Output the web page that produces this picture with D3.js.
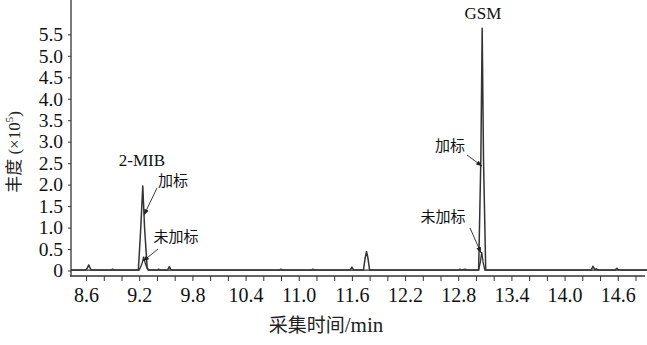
<!DOCTYPE html>
<html><head><meta charset="utf-8">
<script src="https://cdn.jsdelivr.net/npm/d3@7"></script>
<style>body{margin:0;background:#fff}svg{display:block}</style>
</head><body>
<svg id="c" width="647" height="345"></svg>
<script>
// ---- data ----
const yTicks = [0,0.5,1.0,1.5,2.0,2.5,3.0,3.5,4.0,4.5,5.0,5.5];
const xTickLabels = [8.6,9.2,9.8,10.4,11.0,11.6,12.2,12.8,13.4,14.0,14.6];
const xMinorTicks = [8.6,8.8,9.0,9.2,9.4,9.6,9.8,10.0,10.2,10.4,10.6,10.8,11.0,11.2,11.4,11.6,11.8,12.0,12.2,12.4,12.6,12.8,13.0,13.2,13.4,13.6,13.8,14.0,14.2,14.4,14.6,14.8];
// spiked sample (加标) chromatogram: [time(min), abundance ×10^5]
const spiked = [
 [8.43,0.01],[8.60,0.01],[8.615,0.06],[8.63,0.13],[8.645,0.06],[8.66,0.01],
 [8.88,0.01],[8.90,0.03],[8.92,0.01],
 [9.19,0.01],[9.215,0.9],[9.24,1.97],[9.26,1.0],[9.29,0.05],[9.31,0.01],
 [9.40,0.01],[9.42,0.03],[9.44,0.01],
 [9.52,0.01],[9.54,0.09],[9.56,0.01],
 [10.78,0.01],[10.80,0.03],[10.82,0.01],
 [11.14,0.01],[11.16,0.03],[11.18,0.01],
 [11.58,0.01],[11.60,0.08],[11.62,0.01],
 [11.73,0.01],[11.75,0.3],[11.765,0.44],[11.78,0.3],[11.80,0.01],
 [12.80,0.01],[12.82,0.03],[12.84,0.01],[12.88,0.03],[12.90,0.01],
 [13.03,0.01],[13.055,2.6],[13.07,5.64],[13.085,2.6],[13.11,0.01],
 [14.30,0.01],[14.32,0.1],[14.34,0.02],[14.36,0.04],[14.38,0.01],
 [14.57,0.01],[14.59,0.05],[14.61,0.01],
 [14.93,0.01]
];
// unspiked sample (未加标) chromatogram
const unspiked = [
 [8.43,0.01],[9.20,0.01],[9.23,0.15],[9.25,0.32],[9.27,0.15],[9.30,0.01],
 [13.03,0.01],[13.05,0.2],[13.065,0.43],[13.08,0.2],[13.10,0.01],[14.93,0.01]
];
// annotations: text at [t, v]; arrows from [t,v] to [t,v]
const labels = [
 {text:"2-MIB", t:9.231, v:2.44, cjk:false},
 {text:"加标", t:9.581, v:1.97, cjk:true},
 {text:"未加标", t:9.615, v:0.66, cjk:true},
 {text:"GSM", t:13.079, v:5.86, cjk:false},
 {text:"加标", t:12.707, v:2.78, cjk:true},
 {text:"未加标", t:12.628, v:1.13, cjk:true}
];
const arrows = [
 [[9.400,1.92],[9.254,1.29]],
 [[9.412,0.50],[9.243,0.22]],
 [[12.899,2.69],[13.068,2.43]],
 [[12.933,0.99],[13.057,0.41]]
];

// ---- chart ----
const svg = d3.select("#c");
const serif = "'Liberation Serif', serif";
const cjk = "'Noto Sans CJK SC', sans-serif";
const x = d3.scaleLinear().domain([8.43,14.93]).range([71,647]);
const y = d3.scaleLinear().domain([0,6.3]).range([270.5,0]);
const ink = "#333";

// y axis
const yAxis = svg.append("g").attr("transform","translate(71,0)")
 .call(d3.axisLeft(y).tickValues(yTicks).tickSize(3).tickPadding(5)
   .tickFormat(d=> d===0 ? "0" : d3.format(".1f")(d)));
yAxis.attr("font-family",null).attr("font-size",null);
yAxis.select(".domain").attr("d","M0,0V276").attr("stroke",ink).attr("stroke-width",1.3);
yAxis.selectAll(".tick line").attr("stroke",ink);
yAxis.selectAll("text").style("font-family",serif).style("font-size","19.5px").attr("fill","#111");

// x axis
const xAxis = svg.append("g").attr("transform","translate(0,276)")
 .call(d3.axisBottom(x).tickValues(xMinorTicks).tickSize(5).tickPadding(7)
   .tickFormat(d=> xTickLabels.some(v=>Math.abs(v-d)<1e-6) ? d3.format(".1f")(d) : ""));
xAxis.attr("font-family",null).attr("font-size",null);
xAxis.select(".domain").attr("d","M70,0H645").attr("stroke",ink).attr("stroke-width",1.3);
xAxis.selectAll(".tick line").attr("stroke",ink);
xAxis.selectAll("text").style("font-family",serif).style("font-size","20px").attr("fill","#111");

// axis titles
svg.append("text").attr("transform","translate(20,152) rotate(-90)")
 .attr("text-anchor","middle").style("font-size","17px").attr("fill","#222")
 .html(`<tspan style="font-family:${cjk}">丰度</tspan><tspan style="font-family:${serif}"> (×10</tspan><tspan style="font-family:${serif};font-size:11px" dy="-7">5</tspan><tspan style="font-family:${serif}" dy="7">)</tspan>`);
svg.append("text").attr("x",326).attr("y",332).attr("text-anchor","middle")
 .style("font-size","21px").attr("fill","#222")
 .html(`<tspan style="font-family:${cjk};font-size:19px">采集时间</tspan><tspan style="font-family:${serif}">/min</tspan>`);

// lines
const line = d3.line().x(d=>x(d[0])).y(d=>y(d[1]));
svg.append("path").datum(unspiked).attr("d",line).attr("fill","none")
 .attr("stroke",ink).attr("stroke-width",1.3);
svg.append("path").datum(spiked).attr("d",line).attr("fill","none")
 .attr("stroke",ink).attr("stroke-width",1.5).attr("stroke-linejoin","round");

// arrows
svg.append("defs").append("marker").attr("id","ah").attr("viewBox","0 0 10 10")
 .attr("refX",10).attr("refY",5).attr("markerWidth",6).attr("markerHeight",6)
 .attr("orient","auto").attr("markerUnits","userSpaceOnUse")
 .append("path").attr("d","M0,1L10,5L0,9Z").attr("fill","#222");
svg.selectAll(".arr").data(arrows).join("line").attr("class","arr")
 .attr("x1",d=>x(d[0][0])).attr("y1",d=>y(d[0][1]))
 .attr("x2",d=>x(d[1][0])).attr("y2",d=>y(d[1][1]))
 .attr("stroke","#222").attr("stroke-width",0.9).attr("marker-end","url(#ah)");

// labels
svg.selectAll(".lab").data(labels).join("text").attr("class","lab")
 .attr("x",d=>x(d.t)).attr("y",d=>y(d.v)).attr("text-anchor","middle")
 .style("font-family",d=>d.cjk?cjk:serif).style("font-size",d=>d.cjk?"15px":"17px")
 .attr("fill","#111").text(d=>d.text);
</script>
</body></html>
